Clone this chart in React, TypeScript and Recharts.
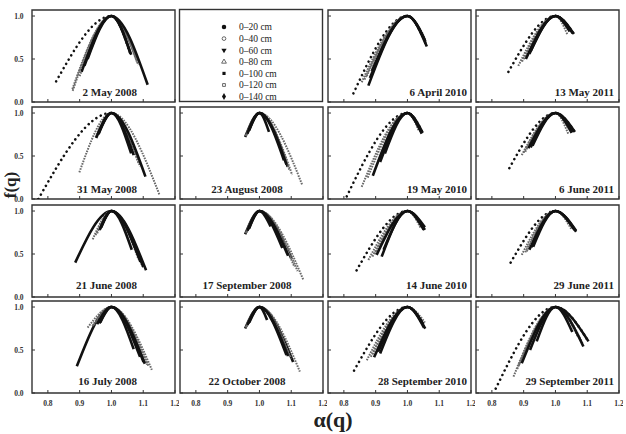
import React from 'react';
import { LineChart, Line, XAxis, YAxis, ReferenceArea, Symbols } from 'recharts';

// soil depth intervals, one series per depth
const depths = ['0–20 cm', '0–40 cm', '0–60 cm', '0–80 cm', '0–100 cm', '0–120 cm', '0–140 cm'];

// sampling dates and the grid cell [row, col] each one sits in; cell (0,1) holds the legend
const dates = [
  '2 May 2008', '6 April 2010', '13 May 2011',
  '31 May 2008', '23 August 2008', '19 May 2010', '6 June 2011',
  '21 June 2008', '17 September 2008', '14 June 2010', '29 June 2011',
  '16 July 2008', '22 October 2008', '28 September 2010', '29 September 2011',
];
const cells = [
  [0, 0], [0, 2], [0, 3],
  [1, 0], [1, 1], [1, 2], [1, 3],
  [2, 0], [2, 1], [2, 2], [2, 3],
  [3, 0], [3, 1], [3, 2], [3, 3],
];

// every spectrum peaks at alpha(0) = 1, f = 1
const peakAlpha = 1.0;
const peakF = 1.0;

// left end (q > 0) of each spectrum: alpha_min and f(alpha_min), per date x depth
const leftAlpha = [
  [0.826, 0.878, 0.906, 0.877, 0.915, 0.900, 0.925],
  [0.830, 0.856, 0.877, 0.865, 0.882, 0.872, 0.888],
  [0.852, 0.883, 0.907, 0.895, 0.918, 0.900, 0.922],
  [0.770, 0.899, 0.952, 0.955, 0.960, 0.950, 0.958],
  [0.955, 0.958, 0.962, 0.960, 0.966, 0.957, 0.968],
  [0.809, 0.856, 0.891, 0.875, 0.914, 0.900, 0.929],
  [0.855, 0.894, 0.915, 0.900, 0.928, 0.905, 0.922],
  [0.886, 0.941, 0.963, 0.950, 0.966, 0.955, 0.968],
  [0.955, 0.958, 0.962, 0.957, 0.966, 0.960, 0.968],
  [0.840, 0.877, 0.903, 0.890, 0.919, 0.897, 0.925],
  [0.859, 0.894, 0.918, 0.905, 0.930, 0.910, 0.925],
  [0.891, 0.925, 0.955, 0.940, 0.962, 0.945, 0.965],
  [0.955, 0.957, 0.962, 0.958, 0.965, 0.960, 0.968],
  [0.832, 0.872, 0.895, 0.885, 0.914, 0.890, 0.908],
  [0.812, 0.868, 0.894, 0.880, 0.920, 0.885, 0.941],
];
const leftF = [
  [0.24, 0.13, 0.35, 0.15, 0.42, 0.30, 0.50],
  [0.10, 0.23, 0.19, 0.26, 0.28, 0.30, 0.36],
  [0.35, 0.42, 0.50, 0.47, 0.56, 0.50, 0.59],
  [0.00, 0.31, 0.71, 0.74, 0.76, 0.72, 0.75],
  [0.72, 0.74, 0.76, 0.75, 0.79, 0.73, 0.80],
  [0.03, 0.14, 0.27, 0.25, 0.43, 0.36, 0.53],
  [0.36, 0.51, 0.59, 0.54, 0.62, 0.55, 0.60],
  [0.40, 0.67, 0.78, 0.72, 0.80, 0.74, 0.81],
  [0.73, 0.75, 0.77, 0.74, 0.79, 0.76, 0.80],
  [0.31, 0.43, 0.49, 0.47, 0.47, 0.50, 0.55],
  [0.40, 0.49, 0.55, 0.52, 0.585, 0.53, 0.58],
  [0.31, 0.76, 0.80, 0.78, 0.81, 0.79, 0.82],
  [0.75, 0.76, 0.79, 0.77, 0.81, 0.78, 0.82],
  [0.26, 0.38, 0.415, 0.42, 0.46, 0.45, 0.48],
  [0.05, 0.19, 0.345, 0.28, 0.50, 0.32, 0.60],
];

// right end (q < 0): alpha_max and f(alpha_max)
const rightAlpha = [
  [1.059, 1.084, 1.059, 1.080, 1.062, 1.085, 1.114],
  [1.061, 1.058, 1.061, 1.052, 1.055, 1.050, 1.057],
  [1.058, 1.050, 1.058, 1.040, 1.054, 1.037, 1.045],
  [1.070, 1.151, 1.070, 1.090, 1.062, 1.085, 1.107],
  [1.089, 1.135, 1.030, 1.103, 1.077, 1.095, 1.085],
  [1.048, 1.040, 1.048, 1.035, 1.045, 1.038, 1.042],
  [1.061, 1.045, 1.061, 1.040, 1.055, 1.048, 1.051],
  [1.109, 1.095, 1.064, 1.100, 1.091, 1.085, 1.100],
  [1.100, 1.138, 1.035, 1.110, 1.072, 1.120, 1.090],
  [1.050, 1.048, 1.050, 1.045, 1.055, 1.042, 1.055],
  [1.060, 1.055, 1.060, 1.050, 1.065, 1.052, 1.065],
  [1.101, 1.127, 1.070, 1.117, 1.090, 1.112, 1.105],
  [1.106, 1.127, 1.024, 1.100, 1.085, 1.095, 1.090],
  [1.050, 1.052, 1.050, 1.055, 1.052, 1.048, 1.056],
  [1.104, 1.078, 1.104, 1.070, 1.053, 1.085, 1.088],
];
const rightF = [
  [0.57, 0.44, 0.57, 0.47, 0.55, 0.43, 0.20],
  [0.645, 0.68, 0.645, 0.75, 0.72, 0.78, 0.70],
  [0.79, 0.82, 0.79, 0.84, 0.80, 0.79, 0.82],
  [0.51, 0.05, 0.51, 0.38, 0.53, 0.42, 0.26],
  [0.375, 0.16, 0.78, 0.28, 0.45, 0.33, 0.40],
  [0.77, 0.80, 0.77, 0.80, 0.76, 0.82, 0.79],
  [0.78, 0.80, 0.78, 0.76, 0.78, 0.82, 0.77],
  [0.31, 0.38, 0.55, 0.34, 0.41, 0.44, 0.35],
  [0.45, 0.20, 0.82, 0.35, 0.57, 0.30, 0.48],
  [0.79, 0.82, 0.79, 0.84, 0.81, 0.80, 0.78],
  [0.78, 0.80, 0.78, 0.79, 0.76, 0.82, 0.77],
  [0.36, 0.27, 0.51, 0.31, 0.42, 0.33, 0.34],
  [0.36, 0.25, 0.85, 0.40, 0.44, 0.42, 0.43],
  [0.80, 0.78, 0.80, 0.82, 0.76, 0.80, 0.75],
  [0.60, 0.62, 0.60, 0.66, 0.71, 0.58, 0.54],
];

const xTicks = [0.8, 0.9, 1.0, 1.1, 1.2];
const yTicks = [0, 0.5, 1.0];

// panel geometry
const COL_X = [32, 179.5, 328, 476];
const ROW_Y = [9.5, 107, 205, 301];
const PW = 143;
const PH = 92;
const AXIS_W = 26;
const AXIS_H = 14;
const PAD = 4;
const X_DOMAIN: [number, number] = [0.75, 1.2];
const Y_DOMAIN: [number, number] = [0, 1.07];
const TITLE_DY = [5.5, 6, 8.5, 8];

const INK = '#333';
const tickFont = { fontFamily: 'Liberation Serif, serif', fontWeight: 700, fontSize: 7.5, fill: INK };
const titleFont = { fontFamily: 'Liberation Serif, serif', fontWeight: 700, fontSize: 11, fill: '#222' };

// filled markers read as solid black, open ones as grey dotted bands
const filled = [true, false, true, false, true, false, true];
const drawOrder = [0, 1, 3, 5, 2, 4, 6];

const lineStyle = (s: number, sparse: boolean) => {
  if (s === 0 && sparse) {
    return { stroke: '#111', strokeWidth: 2.6, strokeDasharray: '0.01 5', strokeLinecap: 'round' as const };
  }
  if (filled[s]) return { stroke: '#111', strokeWidth: 2.6 };
  return { stroke: '#6a6a6a', strokeWidth: 2, strokeDasharray: '1.6 1.1' };
};

const xTick = (showLabel: boolean) => (props: any) => {
  const { x, y, payload } = props;
  return (
    <g>
      <line x1={x} x2={x} y1={y} y2={y - 3} stroke={INK} strokeWidth={1} />
      {showLabel && (
        <text x={x} y={y + 12.5} textAnchor="middle" style={tickFont}>
          {Number(payload.value).toFixed(1)}
        </text>
      )}
    </g>
  );
};

const yTick = (showLabel: boolean) => (props: any) => {
  const { x, y, payload } = props;
  return (
    <g>
      <line x1={x} x2={x + 3} y1={y} y2={y} stroke={INK} strokeWidth={1} />
      {showLabel && (
        <text x={x - 8.5} y={y + 2.6} textAnchor="end" style={tickFont}>
          {Number(payload.value).toFixed(1)}
        </text>
      )}
    </g>
  );
};

function Panel({ index }: { index: number }) {
  const [r, c] = cells[index];
  const sparse = leftAlpha[index][0] < 0.87;
  return (
    <div style={{ position: 'absolute', left: COL_X[c] - AXIS_W, top: ROW_Y[r] - PAD }}>
      <LineChart
        width={AXIS_W + PW + PAD}
        height={PAD + PH + AXIS_H}
        margin={{ top: PAD, right: PAD, left: 0, bottom: 0 }}
      >
        <XAxis
          type="number"
          dataKey="a"
          domain={X_DOMAIN}
          ticks={xTicks}
          interval={0}
          height={AXIS_H}
          axisLine={false}
          tickLine={false}
          tickSize={0}
          tickMargin={0}
          tick={xTick(r === 3)}
          allowDataOverflow
        />
        <YAxis
          type="number"
          domain={Y_DOMAIN}
          ticks={yTicks}
          interval={0}
          width={AXIS_W}
          axisLine={false}
          tickLine={false}
          tickSize={0}
          tickMargin={0}
          tick={yTick(c === 0)}
          allowDataOverflow
        />
        {drawOrder.map((s) => (
          <Line
            key={depths[s]}
            name={depths[s]}
            data={[
              { a: leftAlpha[index][s], f: leftF[index][s] },
              { a: peakAlpha, f: peakF },
              { a: rightAlpha[index][s], f: rightF[index][s] },
            ]}
            dataKey="f"
            type="monotone"
            dot={false}
            activeDot={false}
            isAnimationActive={false}
            {...lineStyle(s, sparse)}
          />
        ))}
        <ReferenceArea
          x1={X_DOMAIN[0]}
          x2={X_DOMAIN[1]}
          y1={Y_DOMAIN[0]}
          y2={Y_DOMAIN[1]}
          fill="none"
          stroke={INK}
          strokeWidth={1.4}
          ifOverflow="visible"
        />
      </LineChart>
    </div>
  );
}

const markerTypes = ['circle', 'circle', 'triangle', 'triangle', 'square', 'square', 'diamond'] as const;
const markerSizes = [16, 11, 12, 10, 10, 8, 14];

function LegendBox() {
  const x0 = COL_X[1];
  const y0 = ROW_Y[0];
  return (
    <g>
      <rect x={x0} y={y0} width={PW} height={PH} fill="none" stroke={INK} strokeWidth={1.4} />
      {depths.map((d, i) => {
        const cy = 27 + i * 11.6;
        const open = !filled[i];
        const flip = i === 2;
        return (
          <g key={d}>
            <g transform={flip ? `rotate(180 224 ${cy})` : undefined}>
              <Symbols
                cx={224}
                cy={cy}
                type={markerTypes[i]}
                size={markerSizes[i]}
                fill={open ? '#fff' : '#111'}
                stroke={open ? '#444' : 'none'}
                strokeWidth={0.8}
              />
            </g>
            <text
              x={239}
              y={cy + 3.3}
              style={{ fontFamily: 'Liberation Serif, serif', fontSize: 9.5, fill: '#222' }}
            >
              {d}
            </text>
          </g>
        );
      })}
    </g>
  );
}

function titleAnchor(c: number): { x: number; anchor: 'start' | 'middle' | 'end' } {
  if (c === 0) return { x: 137, anchor: 'end' };
  if (c === 1) return { x: 247, anchor: 'middle' };
  if (c === 2) return { x: 467, anchor: 'end' };
  return { x: 614, anchor: 'end' };
}

export default function App() {
  return (
    <div
      style={{
        position: 'absolute',
        left: 0,
        top: 0,
        width: 626,
        height: 434,
        background: '#fff',
        overflow: 'hidden',
      }}
    >
      {dates.map((_, i) => (
        <Panel key={dates[i]} index={i} />
      ))}
      <svg
        width={626}
        height={434}
        style={{ position: 'absolute', left: 0, top: 0, pointerEvents: 'none' }}
      >
        <LegendBox />
        {dates.map((d, i) => {
          const [r, c] = cells[i];
          const { x, anchor } = titleAnchor(c);
          return (
            <text key={d} x={x} y={ROW_Y[r] + PH - TITLE_DY[r]} textAnchor={anchor} style={titleFont}>
              {d}
            </text>
          );
        })}
        <text
          transform="translate(16, 185) rotate(-90)"
          textAnchor="middle"
          style={{ fontFamily: 'Liberation Serif, serif', fontWeight: 700, fontSize: 17, fill: '#222' }}
        >
          f(q)
        </text>
        <text
          x={333}
          y={427}
          textAnchor="middle"
          style={{ fontFamily: 'Liberation Serif, serif', fontWeight: 700, fontSize: 22, fill: '#222' }}
        >
          α(q)
        </text>
      </svg>
    </div>
  );
}
